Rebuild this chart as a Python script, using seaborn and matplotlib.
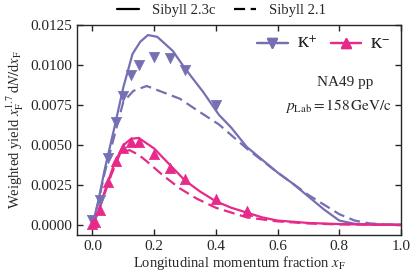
import numpy as np
import pandas as pd
import matplotlib
matplotlib.use("Agg")
import matplotlib.pyplot as plt
import seaborn as sns
from matplotlib.lines import Line2D

# ---- data ----
kp_x = [0.0, 0.025, 0.05, 0.075, 0.1, 0.125, 0.15, 0.2, 0.25, 0.3, 0.4]
kp_y = [0.00035, 0.00158, 0.00418, 0.00646, 0.0081, 0.0094, 0.01004, 0.0105, 0.01046, 0.0097, 0.00754]

km_x = [0.0, 0.01, 0.025, 0.05, 0.075, 0.1, 0.125, 0.15, 0.2, 0.25, 0.3, 0.4, 0.5]
km_y = [0.0001, 0.0002, 0.00098, 0.0027, 0.0040, 0.0048, 0.0052, 0.0052, 0.00448, 0.00358, 0.0029, 0.00163, 0.0009]

s23_kp_x = [0.0, 0.02, 0.04, 0.07, 0.1, 0.13, 0.155, 0.18, 0.21, 0.26, 0.3, 0.36, 0.41, 0.45, 0.5, 0.55, 0.6, 0.65, 0.7, 0.75, 0.8, 0.85, 0.9, 0.95, 1.0]
s23_kp_y = [0.0, 0.0016, 0.0035, 0.0060, 0.0086, 0.0107, 0.01146, 0.01188, 0.01177, 0.0109, 0.0098, 0.0083, 0.0069, 0.0061, 0.0049, 0.0041, 0.0033, 0.0026, 0.0018, 0.0010, 0.0003, 0.0001, 0.00006, 0.00005, 0.00004]

s21_kp_x = [0.0, 0.02, 0.04, 0.074, 0.1, 0.133, 0.176, 0.23, 0.284, 0.338, 0.41, 0.5, 0.6, 0.7, 0.8, 0.85, 0.9, 0.95, 1.0]
s21_kp_y = [0.0, 0.0015, 0.0033, 0.0058, 0.0077, 0.0084, 0.0087, 0.0083, 0.0079, 0.0072, 0.0063, 0.0048, 0.0033, 0.0019, 0.0007, 0.0003, 0.00012, 0.00006, 0.00004]

s23_km_x = [0.0, 0.02, 0.036, 0.05, 0.07, 0.1, 0.125, 0.15, 0.2, 0.25, 0.3, 0.35, 0.4, 0.45, 0.5, 0.55, 0.6, 0.7, 0.8, 0.9, 1.0]
s23_km_y = [0.0, 0.0009, 0.0019, 0.0027, 0.0038, 0.0050, 0.0054, 0.00546, 0.0048, 0.0038, 0.0028, 0.0021, 0.0015, 0.0011, 0.0008, 0.0005, 0.0003, 0.00015, 0.00008, 0.00005, 0.00003]

s21_km_x = [0.0, 0.02, 0.04, 0.06, 0.09, 0.12, 0.15, 0.176, 0.23, 0.284, 0.338, 0.4, 0.445, 0.5, 0.6, 0.7, 0.8, 1.0]
s21_km_y = [0.0, 0.0009, 0.0020, 0.0031, 0.0045, 0.0047, 0.0044, 0.0040, 0.0031, 0.0023, 0.00167, 0.0011, 0.00083, 0.0005, 0.00025, 0.00012, 0.00006, 0.00003]

x_ticks = [0.0, 0.2, 0.4, 0.6, 0.8, 1.0]
y_ticks = [0.0, 0.0025, 0.005, 0.0075, 0.01, 0.0125]

c_kp = "#7570b3"
c_km = "#e7298a"

sns.set_style("ticks")
plt.rcParams["font.family"] = ["Liberation Serif", "DejaVu Serif"]
plt.rcParams["mathtext.fontset"] = "stix"
plt.rcParams["font.size"] = 10.5

fig = plt.figure(figsize=(4.15, 2.76), dpi=100)
ax = fig.add_axes([0.1855, 0.1486, 0.7807, 0.7604])

lw = 1.6
dash = (0, (5, 2.5))
sns.lineplot(x=s23_kp_x, y=s23_kp_y, ax=ax, color=c_kp, lw=lw, linestyle="-")
sns.lineplot(x=s21_kp_x, y=s21_kp_y, ax=ax, color=c_kp, lw=lw, linestyle=dash)
sns.lineplot(x=s23_km_x, y=s23_km_y, ax=ax, color=c_km, lw=lw, linestyle="-")
sns.lineplot(x=s21_km_x, y=s21_km_y, ax=ax, color=c_km, lw=lw, linestyle=dash)

sns.scatterplot(x=kp_x, y=kp_y, ax=ax, color=c_kp, marker="v", s=55, edgecolor=c_kp, linewidth=0.5, zorder=5)
sns.scatterplot(x=km_x, y=km_y, ax=ax, color=c_km, marker="^", s=55, edgecolor=c_km, linewidth=0.5, zorder=5)

ax.set_xlim(-0.05, 1.0)
ax.set_ylim(-0.0006, 0.0125)
ax.set_xticks(x_ticks)
ax.set_xticklabels([f"{v:.1f}" for v in x_ticks])
ax.set_yticks(y_ticks)
ax.set_yticklabels([f"{v:.4f}" for v in y_ticks])
ax.tick_params(direction="in", top=True, right=True, length=4, width=1, labelsize=11)
for sp in ax.spines.values():
    sp.set_linewidth(1.0)
    sp.set_visible(True)

ax.set_xlabel(r"Longitudinal momentum fraction $x_\mathrm{F}$", fontsize=10.5, labelpad=1)
ax.set_ylabel(r"Weighted yield $x_\mathrm{F}^{1.7}\,\mathrm{d}N/\mathrm{d}x_\mathrm{F}$", fontsize=10.5, labelpad=3)

# inner legend (data)
h_kp = Line2D([], [], color=c_kp, marker="v", markersize=7.5, lw=lw)
h_km = Line2D([], [], color=c_km, marker="^", markersize=7.5, lw=lw)
leg1 = ax.legend([h_kp, h_km], [r"K$^{+}$", r"K$^{-}$"], loc="upper right", ncol=2, frameon=False,
                 handlelength=2.0, columnspacing=0.9, handletextpad=0.6, borderaxespad=0.3, fontsize=11)
ax.add_artist(leg1)

ax.text(0.915, 0.725, "NA49 pp", transform=ax.transAxes, ha="right", va="center", fontsize=11)
ax.text(0.972, 0.615, r"$p_\mathrm{Lab} = 158\,\mathrm{GeV/c}$", transform=ax.transAxes, ha="right", va="center", fontsize=11)

# top legend (models)
h_s23 = Line2D([], [], color="black", lw=lw, linestyle="-")
h_s21 = Line2D([], [], color="black", lw=lw, linestyle=dash)
fig.legend([h_s23, h_s21], ["Sibyll 2.3c", "Sibyll 2.1"], loc="center", bbox_to_anchor=(0.534, 0.962),
           ncol=2, frameon=False, handlelength=1.5, columnspacing=1.3, handletextpad=0.9, fontsize=10.5)

fig.savefig("out.png", dpi=100)
